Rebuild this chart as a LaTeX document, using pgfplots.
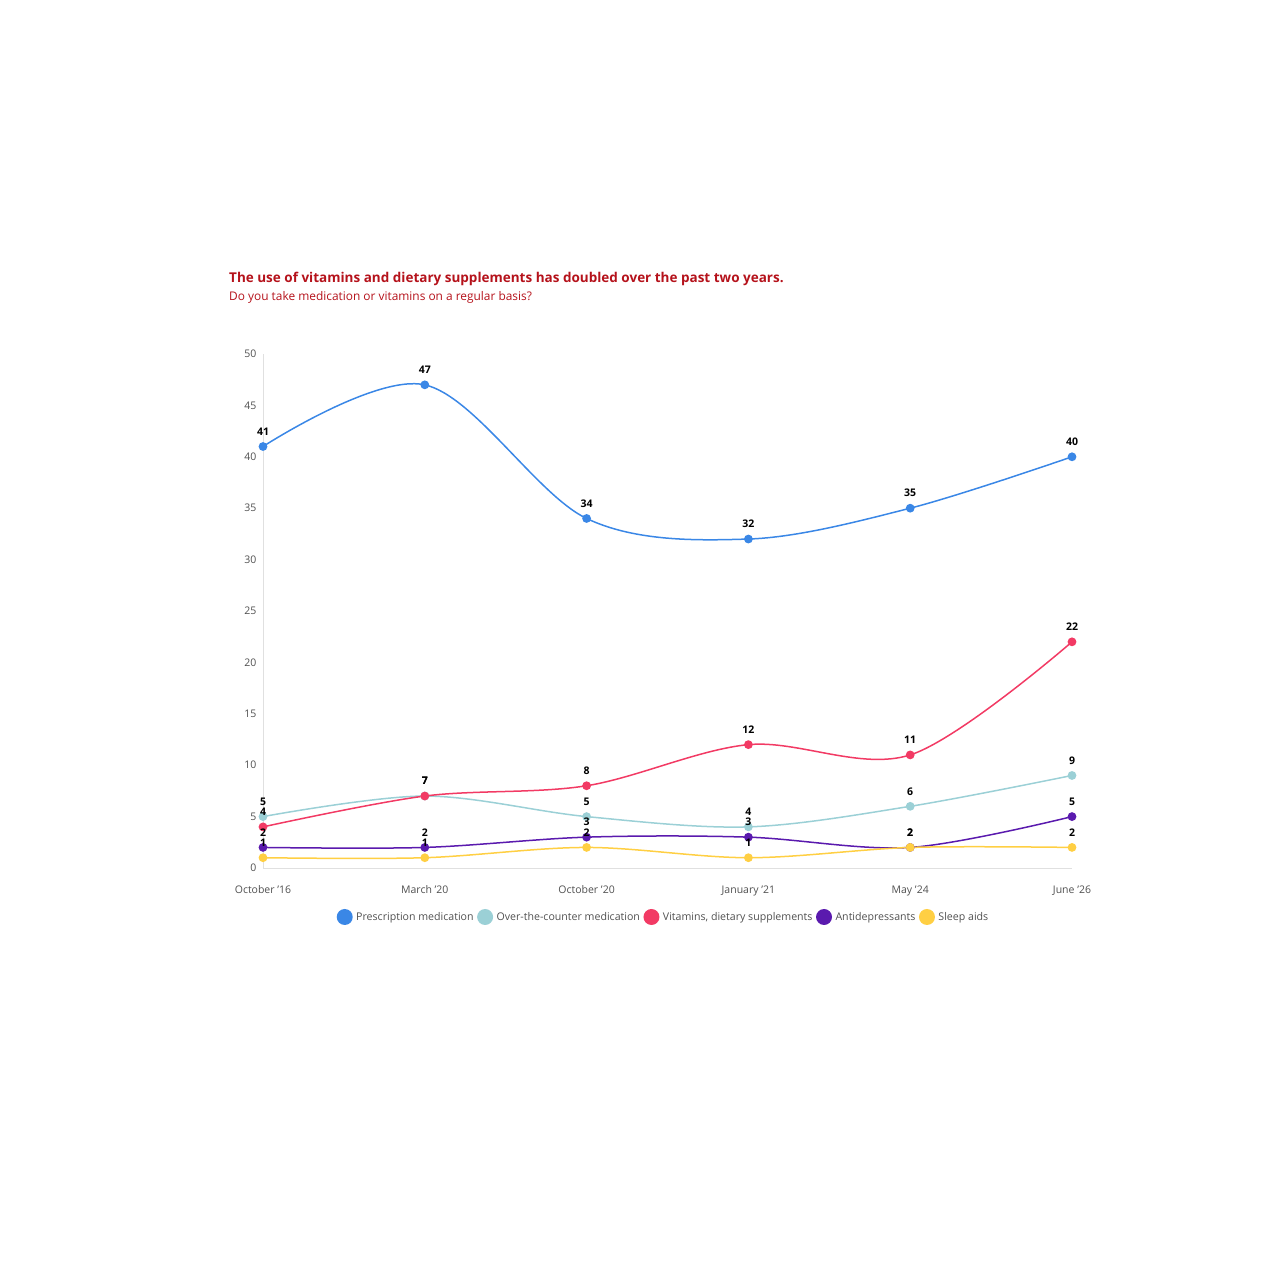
\documentclass[border=0pt]{standalone}
\usepackage{pgfplots}
\pgfplotsset{compat=1.18}
\usepackage{fontspec}
\setmainfont{Open Sans}
\definecolor{cPres}{HTML}{3A87E6}
\definecolor{cOTC}{HTML}{9BD0D6}
\definecolor{cVit}{HTML}{F23A64}
\definecolor{cAnti}{HTML}{5A1AAE}
\definecolor{cSleep}{HTML}{FFCF43}
\definecolor{cTitle}{HTML}{B5121B}
\definecolor{cTick}{HTML}{505050}
\begin{document}
\begin{tikzpicture}[x=1pt,y=1pt]
\useasboundingbox (0,0) rectangle (1280,1280);
\node[anchor=base west, inner sep=0pt, text=cTitle, font=\fontsize{13.5}{15}\selectfont\bfseries] at (229,1280-283) {The use of vitamins and dietary supplements has doubled over the past two years.};
\node[anchor=base west, inner sep=0pt, text=cTitle, font=\fontsize{11.9}{13}\selectfont] at (229,1280-301) {Do you take medication or vitamins on a regular basis?};
\begin{axis}[
  at={(263pt,412pt)}, anchor=south west,
  scale only axis, width=809pt, height=514pt,
  xmin=0, xmax=5, ymin=0, ymax=50,
  xtick={0,...,5},
  xticklabels={October '16, March '20, October '20, January '21, May '24, June '26},
  ytick={0,5,...,50},
  axis x line*=bottom, axis y line*=left,
  axis line style={draw=black!12, line width=0.8pt},
  x axis line style={-}, y axis line style={-},
  major tick length=0pt,
  tick label style={text=cTick, font=\fontsize{10.5}{12}\selectfont},
  /pgf/number format/assume math mode=true,
  xticklabel style={yshift=-14pt},
  yticklabel style={xshift=-3pt},
  clip=false,
  every axis plot/.append style={line width=1.5pt, smooth, tension=0.55, mark=*, mark size=3.6pt,
     mark options={solid}},
  nodes near coords,
  every node near coord/.append style={anchor=center, yshift=15pt, text=black,
     font=\fontsize{10.5}{12}\selectfont\bfseries, /pgf/number format/assume math mode=true},
  legend columns=5,
  legend style={at={(axis description cs:0.5,0)}, anchor=center, yshift=-49pt, xshift=-4pt,
     draw=none, fill=none, inner sep=0pt, column sep=1.5pt,
     font=\fontsize{10.6}{12}\selectfont, text=cTick,
     nodes={inner sep=2pt}},
  legend image code/.code={\fill[#1, draw=none] (8pt,0) circle (8pt);},
]
\addplot[color=cPres] coordinates {(0,41) (1,47) (2,34) (3,32) (4,35) (5,40)};
\addlegendentry{Prescription medication}
\addplot[color=cOTC] coordinates {(0,5) (1,7) (2,5) (3,4) (4,6) (5,9)};
\addlegendentry{Over-the-counter medication}
\addplot[color=cVit] coordinates {(0,4) (1,7) (2,8) (3,12) (4,11) (5,22)};
\addlegendentry{Vitamins, dietary supplements}
\addplot[color=cAnti] coordinates {(0,2) (1,2) (2,3) (3,3) (4,2) (5,5)};
\addlegendentry{Antidepressants}
\addplot[color=cSleep] coordinates {(0,1) (1,1) (2,2) (3,1) (4,2) (5,2)};
\addlegendentry{Sleep aids}
\end{axis}
\end{tikzpicture}
\end{document}
